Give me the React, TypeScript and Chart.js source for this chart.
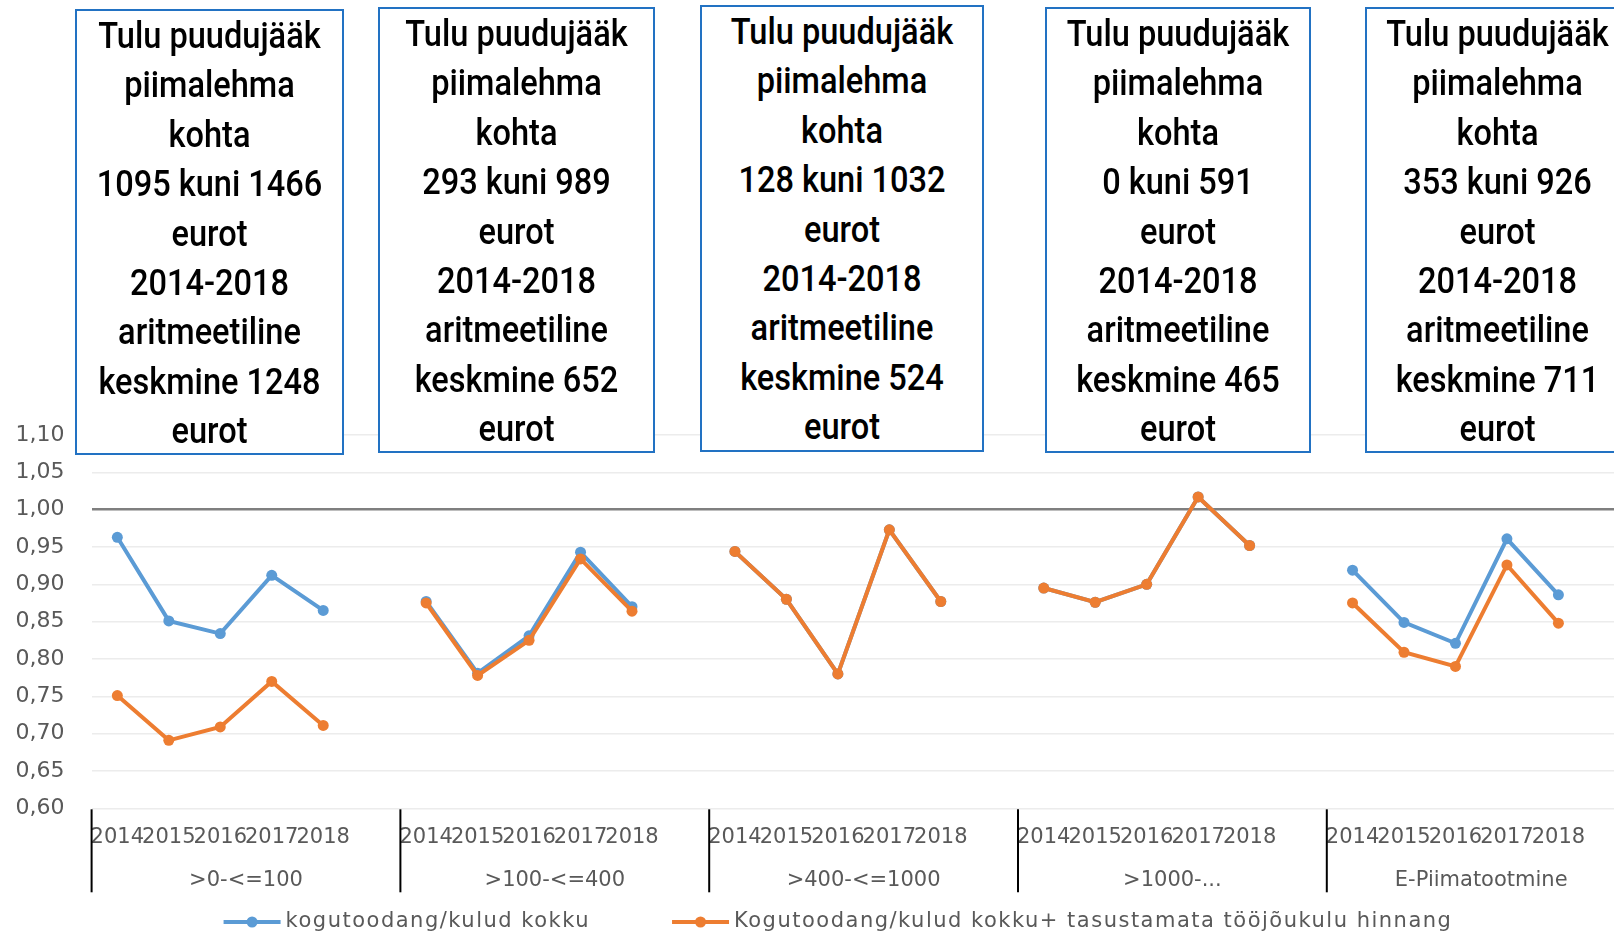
import React, { useEffect, useRef } from 'react';
import { Chart, registerables } from 'chart.js';

Chart.register(...registerables);

// ---- data ----
const years = ['2014', '2015', '2016', '2017', '2018'];
const groups = ['>0-<=100', '>100-<=400', '>400-<=1000', '>1000-...', 'E-Piimatootmine'];
const seriesNames = [
  'kogutoodang/kulud kokku',
  'Kogutoodang/kulud kokku+ tasustamata tööjõukulu hinnang',
];
// kogutoodang/kulud kokku, 5 years per group
const outputToCost = [
  0.963, 0.851, 0.834, 0.912, 0.865,
  0.877, 0.781, 0.831, 0.943, 0.870,
  0.944, 0.880, 0.780, 0.973, 0.877,
  0.895, 0.876, 0.900, 1.017, 0.952,
  0.919, 0.849, 0.821, 0.961, 0.886,
];
// Kogutoodang/kulud kokku + tasustamata tööjõukulu hinnang
const outputToCostLabour = [
  0.751, 0.691, 0.709, 0.770, 0.711,
  0.875, 0.778, 0.825, 0.934, 0.864,
  0.944, 0.880, 0.780, 0.973, 0.877,
  0.895, 0.876, 0.900, 1.017, 0.952,
  0.875, 0.809, 0.790, 0.926, 0.848,
];
const yMin = 0.6;
const yMax = 1.1;
const yStep = 0.05;
const referenceLevel = 1.0;

const boxRanges = ['1095 kuni 1466', '293 kuni 989', '128 kuni 1032', '0 kuni 591', '353 kuni 926'];
const boxMeans = ['1248', '652', '524', '465', '711'];

const BLUE = '#5B9BD5';
const ORANGE = '#ED7D31';
const TEXT_GRAY = '#595959';
const FONT = '"DejaVu Sans", sans-serif';

// build category labels with a blank slot after each group
const labels: string[] = [];
const blueData: (number | null)[] = [];
const orangeData: (number | null)[] = [];
groups.forEach((_, gi) => {
  years.forEach((y, yi) => {
    labels.push(y);
    blueData.push(outputToCost[gi * years.length + yi]);
    orangeData.push(outputToCostLabour[gi * years.length + yi]);
  });
  labels.push('');
  blueData.push(null);
  orangeData.push(null);
});

const SLOTS = years.length + 1;

const decorPlugin = {
  id: 'groupDecor',
  afterDraw(chart: any) {
    const { ctx, chartArea } = chart;
    const x = chart.scales.x;
    const step = x.getPixelForValue(1) - x.getPixelForValue(0);
    ctx.save();
    groups.forEach((g, gi) => {
      const start = x.getPixelForValue(gi * SLOTS) - step / 2;
      ctx.strokeStyle = '#000';
      ctx.lineWidth = 2;
      ctx.beginPath();
      ctx.moveTo(start, chartArea.bottom + 1);
      ctx.lineTo(start, chartArea.bottom + 84);
      ctx.stroke();
      ctx.fillStyle = TEXT_GRAY;
      ctx.font = '21px ' + FONT;
      ctx.textAlign = 'center';
      ctx.textBaseline = 'middle';
      ctx.fillText(g, start + (SLOTS / 2) * step, chartArea.bottom + 72);
    });

    // legend
    const colors = [BLUE, ORANGE];
    const symW = 57;
    const gap = 5;
    const spacing = 82;
    ctx.font = '21px ' + FONT;
    try { (ctx as any).letterSpacing = '1.5px'; } catch (e) {}
    const widths = seriesNames.map((s) => ctx.measureText(s).width);
    const total = widths.reduce((a, w) => a + symW + gap + w, 0) + spacing;
    let cx = 838 - total / 2;
    const ly = 922;
    seriesNames.forEach((s, i) => {
      ctx.strokeStyle = colors[i];
      ctx.lineWidth = 4;
      ctx.beginPath();
      ctx.moveTo(cx, ly);
      ctx.lineTo(cx + symW, ly);
      ctx.stroke();
      ctx.fillStyle = colors[i];
      ctx.beginPath();
      ctx.arc(cx + symW / 2, ly, 5.5, 0, Math.PI * 2);
      ctx.fill();
      ctx.fillStyle = TEXT_GRAY;
      ctx.textAlign = 'left';
      ctx.textBaseline = 'middle';
      ctx.fillText(s, cx + symW + gap, ly);
      cx += symW + gap + widths[i] + spacing;
    });
    ctx.restore();
  },
};

const boxes = [
  { left: 75, top: 9, width: 269, height: 446 },
  { left: 378, top: 7, width: 277, height: 446 },
  { left: 700, top: 5, width: 284, height: 447 },
  { left: 1045, top: 7, width: 266, height: 446 },
  { left: 1365, top: 7, width: 265, height: 446 },
];

function InfoBox({ i }: { i: number }) {
  const b = boxes[i];
  const lines = [
    'Tulu puudujääk',
    'piimalehma',
    'kohta',
    boxRanges[i],
    'eurot',
    '2014-2018',
    'aritmeetiline',
    'keskmine ' + boxMeans[i],
    'eurot',
  ];
  return (
    <div
      style={{
        position: 'absolute',
        left: b.left,
        top: b.top,
        width: b.width,
        height: b.height,
        boxSizing: 'border-box',
        border: '2px solid #2272C3',
        background: '#fff',
        fontFamily: 'Roboto, sans-serif',
        fontWeight: 500,
        fontSize: 37,
        lineHeight: '49.4px',
        color: '#000',
        textAlign: 'center',
        whiteSpace: 'nowrap',
      }}
    >
      <div style={{ transform: 'scaleX(0.88)', transformOrigin: 'center top' }}>
        {lines.map((l, k) => (
          <div key={k}>{l}</div>
        ))}
      </div>
    </div>
  );
}

export default function App() {
  const ref = useRef<HTMLCanvasElement>(null);
  useEffect(() => {
    if (!ref.current) return;
    const chart = new Chart(ref.current, {
      type: 'line',
      data: {
        labels,
        datasets: [
          {
            label: seriesNames[0],
            data: blueData,
            order: 1,
            borderColor: BLUE,
            backgroundColor: BLUE,
            borderWidth: 4,
            pointRadius: 5.5,
            pointBorderWidth: 0,
            pointBackgroundColor: BLUE,
            spanGaps: false,
            tension: 0,
          },
          {
            label: seriesNames[1],
            data: orangeData,
            order: 0,
            borderColor: ORANGE,
            backgroundColor: ORANGE,
            borderWidth: 4,
            pointRadius: 5.5,
            pointBorderWidth: 0,
            pointBackgroundColor: ORANGE,
            spanGaps: false,
            tension: 0,
          },
        ],
      },
      options: {
        responsive: false,
        animation: false,
        devicePixelRatio: 1,
        layout: { padding: { top: 435, left: 0, right: 34.4, bottom: 0 } },
        plugins: { legend: { display: false }, tooltip: { enabled: false } },
        scales: {
          x: {
            type: 'category',
            offset: true,
            grid: { display: false, drawTicks: false },
            border: { display: false },
            ticks: {
              autoSkip: false,
              maxRotation: 0,
              minRotation: 0,
              padding: 17,
              color: TEXT_GRAY,
              font: { family: FONT, size: 21 },
            },
            afterFit: (s: any) => {
              s.height = 935 - 808.3;
            },
          },
          y: {
            min: yMin,
            max: yMax,
            border: { display: false },
            grid: {
              drawTicks: false,
              color: (c: any) => (Math.abs(c.tick.value - referenceLevel) < 1e-6 ? '#7F7F7F' : '#ECECEC'),
              lineWidth: (c: any) => (Math.abs(c.tick.value - referenceLevel) < 1e-6 ? 2.5 : 1.5),
            },
            ticks: {
              stepSize: yStep,
              padding: 27,
              color: TEXT_GRAY,
              font: { family: FONT, size: 22 },
              callback: (v: any) => Number(v).toFixed(2).replace('.', ','),
            },
            afterFit: (s: any) => {
              s.width = 91.6;
            },
          },
        },
      },
      plugins: [decorPlugin],
    });
    return () => chart.destroy();
  }, []);

  return (
    <div
      style={{
        position: 'absolute',
        left: 0,
        top: 0,
        width: 1614,
        height: 935,
        overflow: 'hidden',
        background: '#fff',
      }}
    >
      <canvas ref={ref} width={1670} height={935} style={{ position: 'absolute', left: 0, top: 0, width: 1670, height: 935 }} />
      {boxes.map((_, i) => (
        <InfoBox key={i} i={i} />
      ))}
    </div>
  );
}
